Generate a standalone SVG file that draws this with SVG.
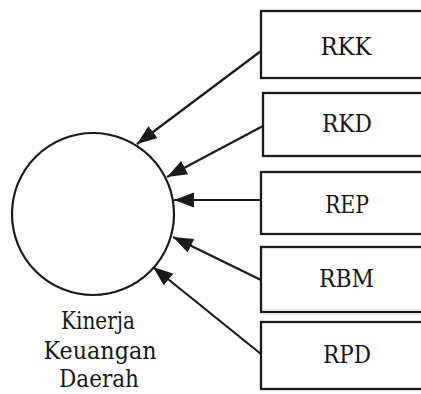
<svg xmlns="http://www.w3.org/2000/svg" width="421" height="394" viewBox="0 0 421 394">
  <style>
    .box { fill: #fff; stroke: #1a1a1a; stroke-width: 2.3; }
    text { font-family: 'DejaVu Serif', serif; fill: #161616; text-anchor: middle; }
    .lbl { font-size: 24px; }
    .cap { font-size: 24px; }
    .edge { stroke: #1a1a1a; stroke-width: 2.2; fill: none; marker-end: url(#arrow); }
  </style>
  <defs>
    <marker id="arrow" markerUnits="userSpaceOnUse" markerWidth="22" markerHeight="16" refX="20" refY="7.5" orient="auto">
      <path d="M0,0 L20,7.5 L0,15 z" fill="#1a1a1a"/>
    </marker>
  </defs>
  <rect width="421" height="394" fill="#fff"/>

  <g id="kinerja-keuangan-daerah">
    <circle cx="93" cy="214" r="81" fill="#fff" stroke="#1a1a1a" stroke-width="2.2"/>
    <text class="cap" x="98" y="329" textLength="74" lengthAdjust="spacingAndGlyphs">Kinerja</text>
    <text class="cap" x="100" y="359" textLength="113" lengthAdjust="spacingAndGlyphs">Keuangan</text>
    <text class="cap" x="99" y="387" textLength="80" lengthAdjust="spacingAndGlyphs">Daerah</text>
  </g>

  <g id="rkk">
    <rect class="box" x="261" y="11" width="180" height="67"/>
    <text class="lbl" x="346" y="55" textLength="51" lengthAdjust="spacingAndGlyphs">RKK</text>
  </g>
  <g id="rkd">
    <rect class="box" x="263" y="93" width="180" height="63"/>
    <text class="lbl" x="347" y="132" textLength="50" lengthAdjust="spacingAndGlyphs">RKD</text>
  </g>
  <g id="rep">
    <rect class="box" x="261" y="172" width="180" height="62"/>
    <text class="lbl" x="347" y="213" textLength="44" lengthAdjust="spacingAndGlyphs">REP</text>
  </g>
  <g id="rbm">
    <rect class="box" x="261" y="247" width="180" height="65"/>
    <text class="lbl" x="346.5" y="287" textLength="55" lengthAdjust="spacingAndGlyphs">RBM</text>
  </g>
  <g id="rpd">
    <rect class="box" x="261" y="322" width="180" height="67"/>
    <text class="lbl" x="347" y="363" textLength="48" lengthAdjust="spacingAndGlyphs">RPD</text>
  </g>

  <g id="connectors">
    <line class="edge" x1="261" y1="51" x2="137" y2="144"/>
    <line class="edge" x1="263" y1="126" x2="167" y2="177"/>
    <line class="edge" x1="261" y1="200" x2="174" y2="200"/>
    <line class="edge" x1="261" y1="280" x2="173" y2="237"/>
    <line class="edge" x1="261" y1="354" x2="153" y2="267"/>
  </g>
</svg>
